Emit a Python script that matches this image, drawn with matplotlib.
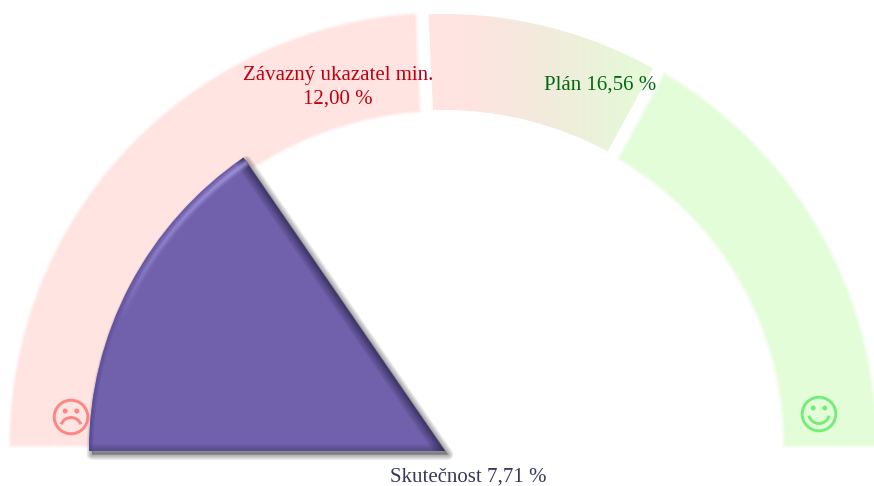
import numpy as np
import matplotlib
matplotlib.use("Agg")
import matplotlib.pyplot as plt
from matplotlib.patches import Wedge, Circle, Arc, Polygon
from matplotlib.colors import LinearSegmentedColormap

scale_max = 25.0
actual = 7.71
minimum = 12.00
plan = 16.56
label_min = "Závazný ukazatel min.\n12,00 %"
label_plan = "Plán 16,56 %"
label_actual = "Skutečnost 7,71 %"

W, H = 874, 486
fig = plt.figure(figsize=(W/100, H/100), dpi=100)
ax = fig.add_axes([0, 0, 1, 1])
ax.set_xlim(0, W); ax.set_ylim(0, H); ax.axis("off")

def yy(p): return H - p
def ang(v): return 180 - 180 * v / scale_max   # from the right, counter-clockwise

cx, cy = 443, yy(445)
Rx, Ry = 432, 431
rx, ry = 342, 335
PINK, GREEN = "#ffe4e1", "#e4fdd9"
half_gap = 7.0
shift = 0.75   # reference boundaries sit slightly right of nominal
a_min, a_plan = ang(minimum) - shift, ang(plan) - shift

def band_poly(a1, a2, off1, off2):
    """Ring sector with parallel-sided gaps; off1/off2 = px offsets at each end."""
    def side(Ax, Ay):
        rad = (Ax + Ay) / 2
        t = np.radians(np.linspace(a1 + np.degrees(off1/rad), a2 - np.degrees(off2/rad), 160))
        return np.column_stack([cx + Ax*np.cos(t), cy + Ay*np.sin(t)])
    return np.vstack([side(Rx, Ry), side(rx, ry)[::-1]])

def band(a1, a2, off1, off2, color, fill=True):
    pts = band_poly(a1, a2, off1, off2)
    if fill:
        for lw, al in ((4.5, .16), (3, .25), (1.5, .45)):
            ax.add_patch(Polygon(pts, closed=True, fc="none", ec=color, lw=lw, alpha=al, zorder=1))
    return ax.add_patch(Polygon(pts, closed=True, fc=color if fill else "none", ec="none", zorder=2))

band(a_min, 180, half_gap, 0, PINK)
band(0, a_plan, 0, half_gap, GREEN)
w = band(a_plan, a_min, half_gap, half_gap, PINK, fill=False)
cmap = LinearSegmentedColormap.from_list("g", [PINK, "#f2ebdc", "#e6f8d8"])
im = ax.imshow(np.linspace(0, 1, 256)[None, :], extent=[465, 630, yy(160), yy(5)], cmap=cmap,
               aspect="auto", zorder=2)
ax.imshow(np.zeros((1, 1)), extent=[420, 465, yy(160), yy(5)], cmap=LinearSegmentedColormap.from_list("p", [PINK, PINK]),
          aspect="auto", zorder=2).set_clip_path(w)
ax.imshow(np.ones((1, 1)), vmin=0, vmax=1, extent=[630, 680, yy(160), yy(5)],
          cmap=LinearSegmentedColormap.from_list("q", ["#e6f8d8", "#e6f8d8"]),
          aspect="auto", zorder=2).set_clip_path(w)
im.set_clip_path(w)
ax.set_xlim(0, W); ax.set_ylim(0, H)

# pie pointer
px, py, pr = 445, yy(451), 356
a_act = ang(actual)
theta = np.radians(np.linspace(a_act, 180, 120))
outline = np.column_stack([px + pr*np.cos(theta), py + pr*np.sin(theta)])
outline = np.vstack([[px, py], outline])
for k in range(10, 0, -1):
    ax.add_patch(Polygon(outline + np.array([3.0, -3.5]), closed=True, fc="#3a3a40", ec="#3a3a40",
                         lw=k*0.8, alpha=0.05, joinstyle="round", zorder=3))
pie = Wedge((px, py), pr, a_act, 180, fc="#7161ac", ec="none", zorder=4)
ax.add_patch(pie)
tip = outline[1]
bl = outline[-1]
def stroke(xs, ys, color, lw, alpha, z=5):
    l, = ax.plot(xs, ys, color=color, lw=lw, alpha=alpha, zorder=z, solid_capstyle="butt")
    l.set_clip_path(pie)
for lw in (14, 11, 8, 6, 4, 2.5):
    stroke([tip[0], px], [tip[1], py], "#1e1a3c", lw, .13)
for lw in (10, 8, 6, 4, 2.5):
    stroke([bl[0], px], [bl[1], py], "#2e2658", lw, .08)
# rim shading and highlight on the arc
t = np.radians(np.linspace(a_act, 180, 80))
for i in range(79):
    f = i / 78
    seg = t[i:i+2]
    for lw in (6, 4, 2):
        stroke(px + pr*np.cos(seg), py + pr*np.sin(seg), "#4d4190", lw, 0.30 * f**1.5)
    if f < .6:
        a = (1 - f/.6)**0.7
        for lw, al in ((6, .22), (3.5, .35), (1.5, .4)):
            stroke(px + (pr-6)*np.cos(seg), py + (pr-6)*np.sin(seg), "#aea2ea", lw, al * a)

# faces
def face(c, col, smile):
    x, y = c[0], yy(c[1])
    ax.add_patch(Circle((x, y), 16.8, fc="none", ec=col, lw=2.1, zorder=3))
    for d in (-5.8, 5.8):
        ax.add_patch(Circle((x+d, y+6), 2.5, fc=col, ec="none", zorder=3))
    if smile:
        ax.add_patch(Arc((x, y+1), 21, 21, theta1=195, theta2=345, ec=col, lw=2.1, zorder=3))
    else:
        ax.add_patch(Arc((x, y-11), 21, 21, theta1=20, theta2=160, ec=col, lw=2.1, zorder=3))
face((71, 417), "#ff8583", False)
face((819, 414), "#74ee78", True)

font = dict(family="Liberation Serif", fontsize=15, zorder=6)
ax.text(338, yy(87), label_min, color="#c00010", ha="center", va="center", linespacing=1.32, **font)
ax.text(600, yy(85), label_plan, color="#006a10", ha="center", va="center", **font)
ax.text(468, yy(477), label_actual, color="#38385c", ha="center", va="center", **font)

fig.savefig("out.png", dpi=100, facecolor="white")
